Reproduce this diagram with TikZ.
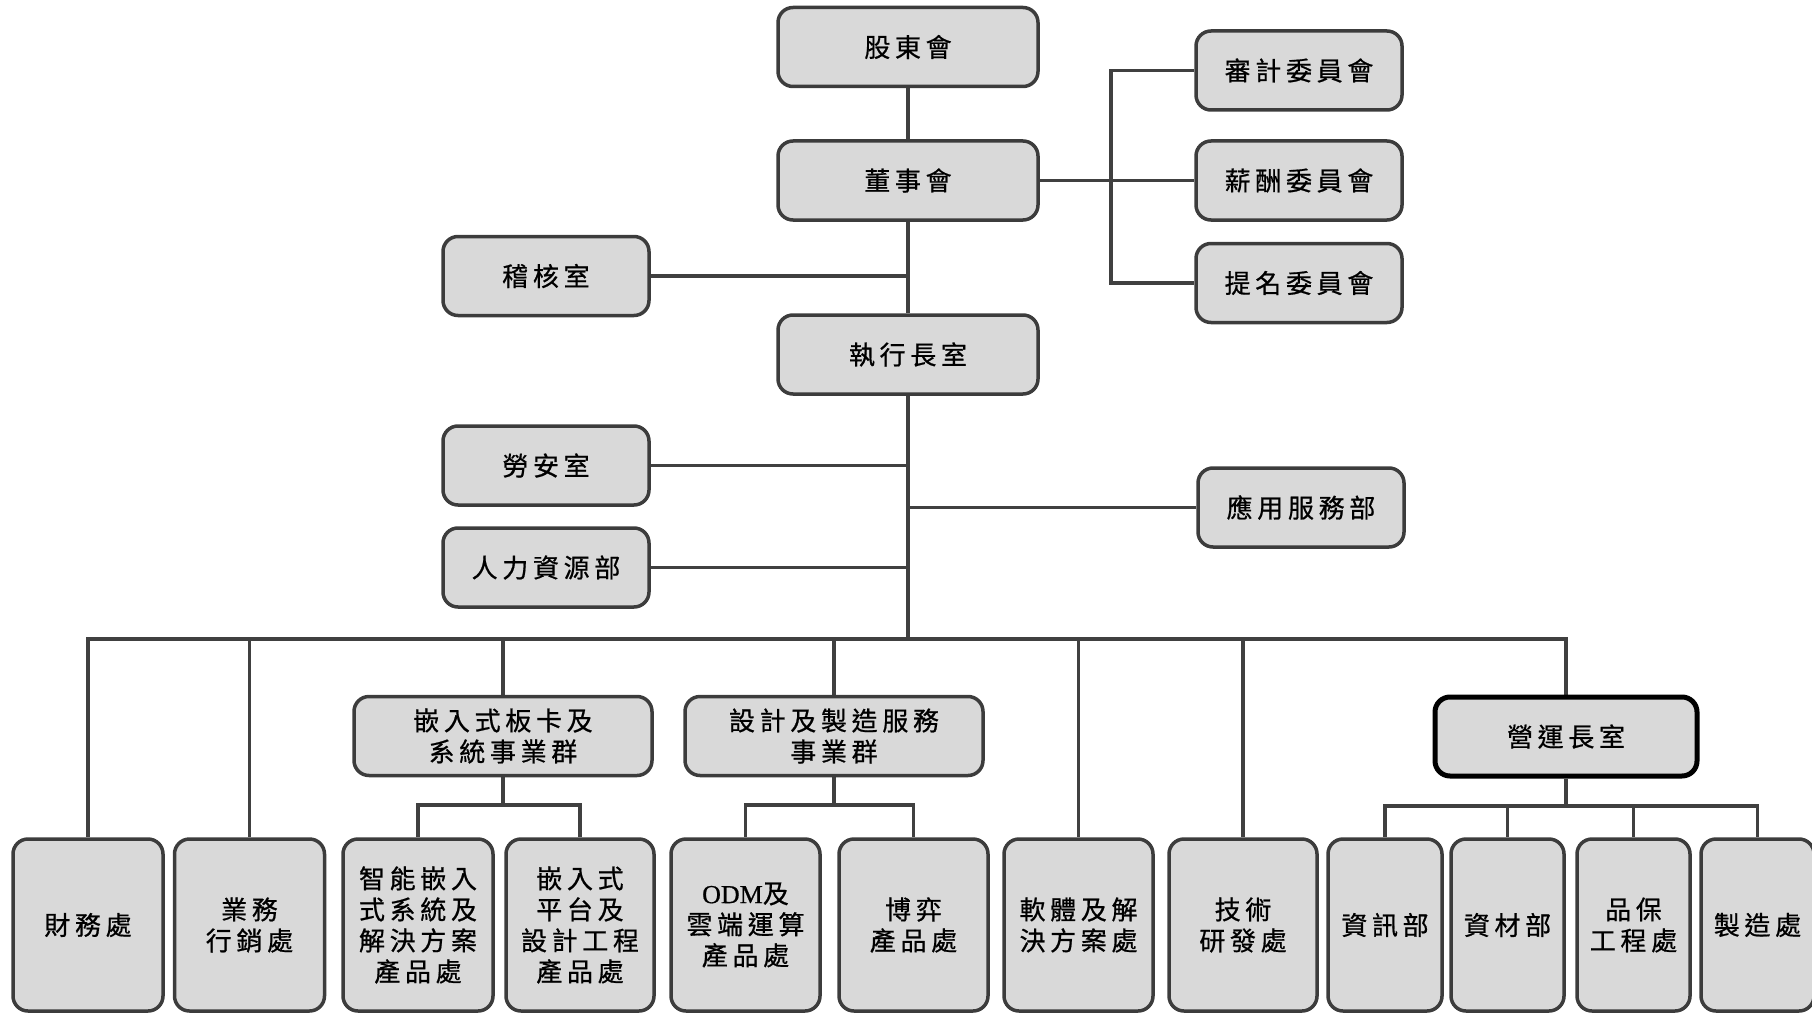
\documentclass[tikz,border=0pt]{standalone}
\usepackage{fontspec}
\usetikzlibrary{backgrounds}
\newfontfamily\cjk{Noto Sans CJK TC}[LetterSpace=18,FakeBold=0.7]
\newfontfamily\cjklat{Liberation Serif}[FakeBold=0.7]
\definecolor{boxfill}{HTML}{D9D9D9}
\definecolor{boxline}{HTML}{3C3C3C}
\definecolor{conn}{HTML}{404040}
\tikzset{
  orgbox/.style={draw=boxline, line width=3.5pt, fill=boxfill, rounded corners=15pt,
    inner sep=0pt, align=center, font=\cjk\fontsize{26}{31}\selectfont, text=black},
  toprow/.style={orgbox, minimum width=260pt, minimum height=79pt},
  sidebox/.style={orgbox, minimum width=206pt, minimum height=79pt},
  grpbox/.style={orgbox, minimum width=298pt, minimum height=79pt},
  lowbox/.style={orgbox, minimum width=150pt, minimum height=172pt},
  narrowbox/.style={orgbox, minimum width=113pt, minimum height=172pt},
  cooBox/.style={orgbox, draw=black, line width=5pt, minimum width=262pt, minimum height=79pt},
  link/.style={draw=conn, line width=3.8pt},
}
\begin{document}
\begin{tikzpicture}[x=1pt,y=-1pt]
\useasboundingbox (0,0) rectangle (1812,1014);
\coordinate (busL) at (88,639);
\coordinate (busR) at (1566,639);
\coordinate (trunk) at (908,639);
% top level nodes
\node[toprow] (gudong) at (908,47) {股東會};
\node[toprow] (dongshi) at (908,180.5) {董事會};
\node[sidebox] (jihe) at (546,276) {稽核室};
\node[toprow] (ceo) at (908,354.5) {執行長室};
\node[sidebox] (shenji) at (1299,70.5) {審計委員會};
\node[sidebox] (xinchou) at (1299,180.5) {薪酬委員會};
\node[sidebox] (timing) at (1299,283) {提名委員會};
\node[sidebox] (laoan) at (546,465.5) {勞安室};
\node[sidebox] (renli) at (546,567.5) {人力資源部};
\node[sidebox] (yingyong) at (1301,507.5) {應用服務部};
% groups
\node[grpbox] (g1) at (503,736) {嵌入式板卡及\\系統事業群};
\node[grpbox] (g2) at (834,736) {設計及製造服務\\事業群};
\node[cooBox] (coo) at (1566,736.5) {營運長室};
% bottom row
\node[lowbox] (caiwu) at (88,925) {財務處};
\node[lowbox] (yewu) at (249.5,925) {業務\\行銷處};
\node[lowbox] (zhineng) at (418,925) {智能嵌入\\式系統及\\解決方案\\產品處};
\node[lowbox, minimum width=148pt] (pingtai) at (580,925) {嵌入式\\平台及\\設計工程\\產品處};
\node[lowbox, minimum width=149pt] (odm) at (745.5,925) {{\cjklat ODM}及\\雲端運算\\產品處};
\node[lowbox, minimum width=149pt] (boyi) at (913.5,925) {博弈\\產品處};
\node[lowbox, minimum width=149pt] (ruanti) at (1078.5,925) {軟體及解\\決方案處};
\node[lowbox, minimum width=148pt] (jishu) at (1243,925) {技術\\研發處};
\node[narrowbox, minimum width=114pt] (zixun) at (1385,925) {資訊部};
\node[narrowbox] (zicai) at (1507.5,925) {資材部};
\node[narrowbox] (pinbao) at (1633.5,925) {品保\\工程處};
\node[narrowbox] (zhizao) at (1757.5,925) {製造處};
% connectors
\begin{pgfonlayer}{background}
\path[link] (gudong.south) -- (dongshi.north);
\path[link] (dongshi.south) -- (ceo.north);
\path[link] (jihe.east) -- (jihe.east -| ceo.north);
\path[link] (dongshi.east) -- (xinchou.west);
\path[link] (shenji.west) -- ++(-83,0) |- (timing.west);
\path[link] (ceo.south) -- (trunk);
\path[link] (laoan.east) -- (laoan.east -| ceo.south);
\path[link] (renli.east) -- (renli.east -| ceo.south);
\path[link] (yingyong.west) -- (yingyong.west -| ceo.south);
\path[link, line cap=rect] (busL) -- (busR);
\path[link] (busL) -- (caiwu.north);
\path[link] (yewu.north |- busL) -- (yewu.north);
\path[link] (g1.north |- busL) -- (g1.north);
\path[link] (g2.north |- busL) -- (g2.north);
\path[link] (ruanti.north |- busL) -- (ruanti.north);
\path[link] (jishu.north |- busL) -- (jishu.north);
\path[link] (busR) -- (coo.north);
\coordinate (s1) at (503,805);
\coordinate (s2) at (834,805);
\coordinate (s3) at (1566,806);
\path[link] (g1.south) -- (s1);
\path[link, line cap=rect] (zhineng.north |- s1) -- (pingtai.north |- s1);
\path[link] (zhineng.north |- s1) -- (zhineng.north);
\path[link] (pingtai.north |- s1) -- (pingtai.north);
\path[link] (g2.south) -- (s2);
\path[link, line cap=rect] (odm.north |- s2) -- (boyi.north |- s2);
\path[link] (odm.north |- s2) -- (odm.north);
\path[link] (boyi.north |- s2) -- (boyi.north);
\path[link] (coo.south) -- (s3);
\path[link, line cap=rect] (zixun.north |- s3) -- (zhizao.north |- s3);
\path[link] (zixun.north |- s3) -- (zixun.north);
\path[link] (zicai.north |- s3) -- (zicai.north);
\path[link] (pinbao.north |- s3) -- (pinbao.north);
\path[link] (zhizao.north |- s3) -- (zhizao.north);
\end{pgfonlayer}
\end{tikzpicture}
\end{document}
